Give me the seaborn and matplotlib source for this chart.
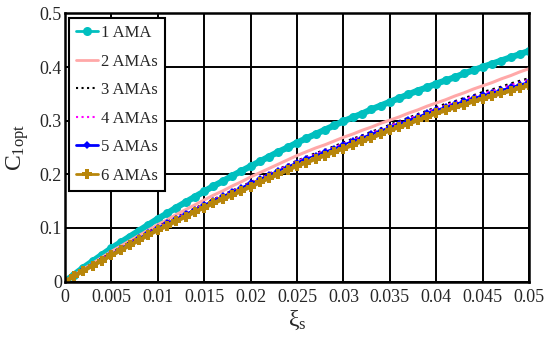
import numpy as np
import pandas as pd
import seaborn as sns
import matplotlib
matplotlib.use('Agg')
import matplotlib.pyplot as plt

# xi_s values (step 0.001)
xi_s = np.round(np.arange(0, 0.0505, 0.001), 3)

c_1ama = [0, .013, .026, .038, .050, .062, .073, .084, .095, .106, .117,
          .127, .138, .148, .158, .168, .178, .187, .197, .206, .215,
          .224, .233, .242, .250, .259, .267, .275, .283, .291, .299,
          .306, .313, .321, .328, .335, .342, .349, .356, .362, .369,
          .375, .381, .388, .394, .400, .406, .412, .418, .424, .430]
c_2ama = [0, .012, .023, .034, .045, .056, .066, .076, .086, .096, .106,
          .115, .125, .134, .143, .152, .161, .169, .178, .186, .195,
          .203, .211, .219, .227, .235, .242, .249, .255, .262, .269,
          .275, .282, .288, .295, .301, .307, .314, .320, .327, .333,
          .339, .346, .352, .359, .365, .371, .378, .384, .391, .397]
c_3ama = [0, .011, .022, .032, .043, .053, .063, .073, .083, .092, .102,
          .111, .119, .128, .136, .145, .153, .161, .169, .177, .185,
          .193, .201, .209, .217, .225, .232, .239, .245, .252, .259,
          .266, .272, .279, .285, .292, .299, .305, .312, .318, .325,
          .331, .336, .342, .347, .353, .358, .363, .369, .374, .379]
c_4ama = [0, .011, .021, .032, .042, .052, .062, .072, .082, .091, .101,
          .110, .118, .127, .135, .144, .152, .160, .168, .176, .184,
          .192, .200, .208, .216, .224, .231, .237, .244, .250, .257,
          .264, .270, .277, .283, .290, .297, .303, .310, .316, .323,
          .328, .334, .339, .345, .350, .355, .360, .366, .371, .376]
c_5ama = [0, .011, .021, .031, .041, .051, .061, .071, .081, .090, .100,
          .109, .117, .126, .134, .143, .151, .159, .167, .175, .183,
          .191, .199, .207, .214, .222, .229, .235, .242, .248, .255,
          .262, .268, .275, .281, .288, .294, .301, .307, .314, .320,
          .325, .331, .336, .342, .347, .352, .357, .362, .367, .372]
c_6ama = [0, .010, .020, .030, .039, .049, .058, .068, .077, .087, .096,
          .104, .113, .121, .130, .138, .146, .154, .161, .169, .177,
          .185, .193, .200, .208, .216, .222, .229, .235, .242, .248,
          .255, .262, .268, .275, .282, .288, .294, .301, .307, .314,
          .319, .325, .330, .336, .341, .346, .351, .356, .361, .366]

labels = ['1 AMA', '2 AMAs', '3 AMAs', '4 AMAs', '5 AMAs', '6 AMAs']
series = [c_1ama, c_2ama, c_3ama, c_4ama, c_5ama, c_6ama]

# line styles per series (MATLAB-like, dense markers -> thick banded lines)
styles = [
    dict(color='#00BFBF', linestyle='-', linewidth=4.5, marker='o', markersize=6.5, markeredgewidth=0),
    dict(color='#FFA8A8', linestyle='-', linewidth=2.2),
    dict(color='black', linestyle=':', linewidth=1.8),
    dict(color='#FF00FF', linestyle=':', linewidth=1.8),
    dict(color='#0000FF', linestyle='-', linewidth=1.5, marker='D', markersize=4, markeredgewidth=0),
    dict(color='#B8860B', linestyle='-', linewidth=3, marker='P', markersize=6.5, markeredgewidth=0),
]
legend_lw = [2, 2, 1.5, 1.5, 2, 2]

sns.set_style('white')
plt.rcParams['font.family'] = ['Liberation Serif', 'DejaVu Serif']
plt.rcParams['mathtext.fontset'] = 'custom'
plt.rcParams['mathtext.rm'] = 'Liberation Serif'
plt.rcParams['mathtext.it'] = 'Liberation Serif:italic'

fig = plt.figure(figsize=(5.49, 3.43), dpi=100)
ax = fig.add_axes([0.118, 0.179, 0.846, 0.782])

for lab, vals, st in zip(labels, series, styles):
    sns.lineplot(x=xi_s, y=vals, ax=ax, label=lab, **st)

ax.set_xlim(0, 0.05)
ax.set_ylim(0, 0.5)
ax.set_xticks(np.round(np.arange(0, 0.0505, 0.005), 3))
ax.set_xticklabels(['0', '0.005', '0.01', '0.015', '0.02', '0.025', '0.03',
                    '0.035', '0.04', '0.045', '0.05'])
ax.set_yticks([0, 0.1, 0.2, 0.3, 0.4, 0.5])
ax.set_yticklabels(['0', '0.1', '0.2', '0.3', '0.4', '0.5'])
ax.tick_params(labelsize=13, length=0)
ax.tick_params(axis='x', pad=5)
ax.tick_params(axis='y', pad=2)
ax.grid(True, color='black', linewidth=1.4, linestyle='-')
ax.set_axisbelow(True)
for sp in ax.spines.values():
    sp.set_color('black')
    sp.set_linewidth(1.8)

ax.set_xlabel(r'$\mathrm{\xi_s}$', fontsize=17, labelpad=2)
ax.set_ylabel(r'$\mathrm{C_{1opt}}$', fontsize=17, labelpad=6)

leg = ax.legend(loc='upper left', fontsize=12, frameon=True, fancybox=False,
                framealpha=1, edgecolor='black', borderaxespad=0.25,
                handlelength=1.3, handletextpad=0.15, labelspacing=0.75,
                borderpad=0.45)
leg.get_frame().set_linewidth(1.5)
for hl, lw in zip(leg.get_lines(), legend_lw):
    hl.set_linewidth(lw)

fig.savefig('out.png', dpi=100)
